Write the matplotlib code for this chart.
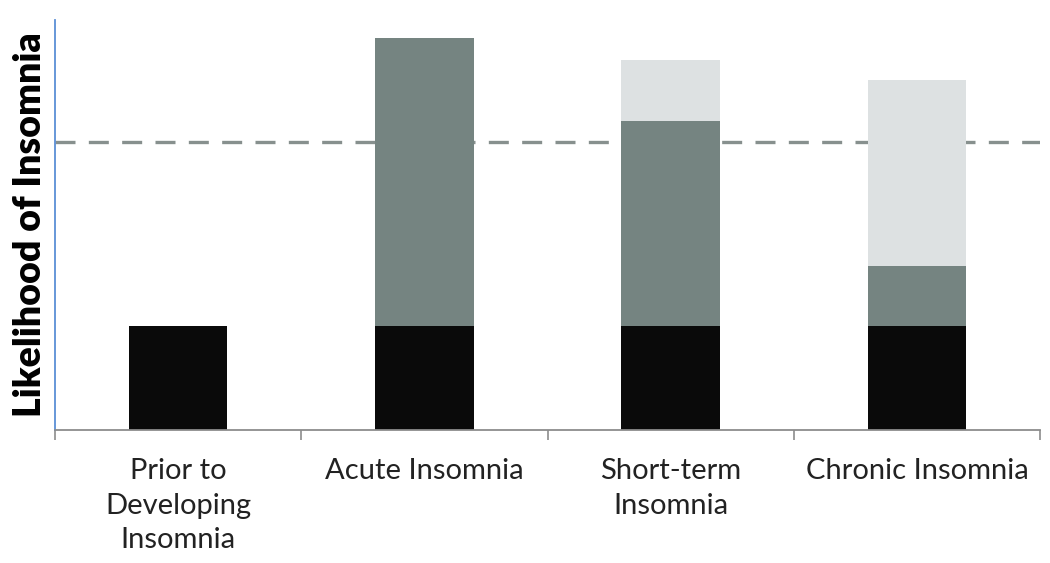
import numpy as np
import matplotlib.pyplot as plt

# data (arbitrary units)
categories = ['Prior to\nDeveloping\nInsomnia', 'Acute Insomnia',
              'Short-term\nInsomnia', 'Chronic Insomnia']
predisposing = [1.04, 1.04, 1.04, 1.04]
precipitating = [0.0, 2.88, 2.05, 0.60]
perpetuating = [0.0, 0.0, 0.61, 1.86]
threshold = 2.88

plt.rcParams['font.family'] = ['Lato', 'DejaVu Sans']

fig = plt.figure(figsize=(10.5, 5.63), dpi=100)
ax = fig.add_axes([0.0524, 0.2362, 0.9381, 0.7283])

x = np.arange(len(categories))
w = 0.40
b1 = np.array(predisposing)
b2 = b1 + np.array(precipitating)
ax.bar(x, predisposing, w, color='#0a0a0a')
ax.bar(x, precipitating, w, bottom=b1, color='#758481')
ax.bar(x, perpetuating, w, bottom=b2, color='#dde1e2')

ax.axhline(threshold, color='#87908e', lw=2.4, dashes=(6, 4), zorder=0.5)

ax.set_xlim(-0.5, len(categories) - 0.5)
ax.set_ylim(0, 4.10)

# labels at centres, tick marks at the category borders
ax.set_xticks(x)
ax.set_xticklabels(categories, fontsize=21, color='#222222', linespacing=1.42)
ax.tick_params(axis='x', which='major', length=0, pad=20)
ax.set_xticks(np.arange(len(categories) + 1) - 0.5, minor=True)
ax.tick_params(axis='x', which='minor', length=7, width=1.2, color='#8c8c8c')
ax.set_yticks([])

ax.spines['top'].set_visible(False)
ax.spines['right'].set_visible(False)
ax.spines['left'].set_color('#5b8fd6')
ax.spines['left'].set_linewidth(1.3)
ax.spines['bottom'].set_color('#8c8c8c')
ax.spines['bottom'].set_linewidth(1.3)

ax.set_ylabel('Likelihood of Insomnia', fontsize=27, fontweight='heavy', labelpad=6)

plt.savefig('out.png', dpi=100)
